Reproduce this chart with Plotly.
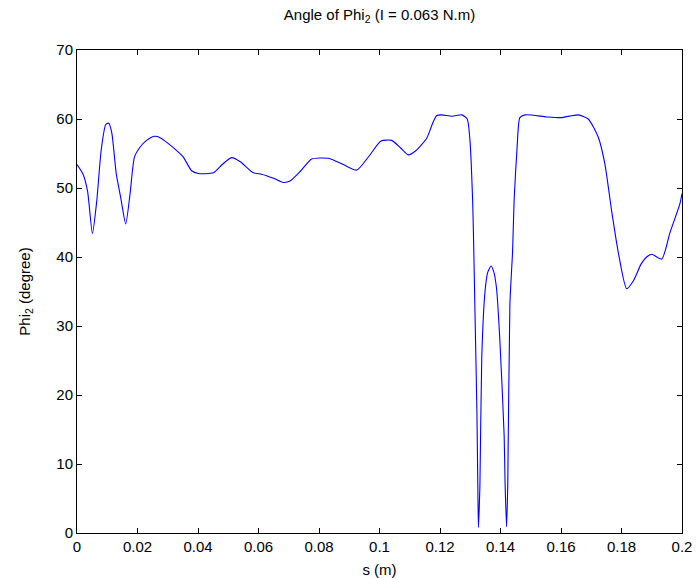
import plotly.graph_objects as go

s_m = [0, 0.002, 0.0035, 0.0051, 0.0065, 0.008, 0.0095, 0.0105, 0.0115, 0.013,
       0.0145, 0.0161, 0.0175, 0.019, 0.0208, 0.023, 0.0255, 0.0275, 0.030, 0.0325,
       0.0351, 0.0379, 0.0401, 0.0451, 0.048, 0.0511, 0.054, 0.0583, 0.061, 0.065,
       0.0682, 0.0704, 0.074, 0.0776, 0.0831, 0.088, 0.0925, 0.0965, 0.1005, 0.104,
       0.107, 0.1095, 0.112, 0.1156, 0.1175, 0.1189, 0.1205, 0.124, 0.1272, 0.129,
       0.1299, 0.1308, 0.1311, 0.1316, 0.1322, 0.1325, 0.1327, 0.1332, 0.1338, 0.1349,
       0.1358, 0.1369, 0.1378, 0.1387, 0.1398, 0.1412, 0.1415, 0.1420, 0.1424, 0.1431,
       0.1440, 0.1445, 0.1455, 0.1464, 0.1481, 0.1553, 0.160, 0.1657, 0.169, 0.1723,
       0.1745, 0.1768, 0.179, 0.1817, 0.184, 0.1865, 0.1883, 0.190, 0.1933, 0.196,
       0.1993, 0.2]

phi2_deg = [53.4, 52, 49.5, 43.4, 48, 55.5, 59.2, 59.4, 58, 52,
            48.5, 44.8, 49, 54.5, 55.9, 56.9, 57.5, 57.3, 56.5, 55.6,
            54.5, 52.5, 52.1, 52.2, 53.4, 54.4, 53.8, 52.2, 52.0, 51.4,
            50.8, 51.0, 52.5, 54.2, 54.3, 53.4, 52.6, 54.6, 56.8, 56.9,
            55.8, 54.8, 55.4, 57.2, 59.3, 60.5, 60.6, 60.4, 60.6, 60.0,
            56.9, 48, 42.4, 31.2, 17.6, 7.0, 0.8, 7.0, 25.4, 35.1,
            37.8, 38.7, 37.8, 35.4, 27.8, 14.2, 7.5, 0.9, 7.0, 33.1,
            40.9, 48.2, 56, 60.2, 60.6, 60.3, 60.2, 60.6, 60.0, 57.4,
            53.5, 46.5, 40.5, 35.4, 36.6, 39.0, 40.0, 40.4, 39.7, 43.5,
            47.7, 49.2]

x_ticks = [0, 0.02, 0.04, 0.06, 0.08, 0.1, 0.12, 0.14, 0.16, 0.18, 0.2]
x_tick_labels = ["0", "0.02", "0.04", "0.06", "0.08", "0.1", "0.12", "0.14", "0.16", "0.18", "0.2"]
y_ticks = [0, 10, 20, 30, 40, 50, 60, 70]

FONT = "Liberation Sans, Arial, sans-serif"
FS = 15

W, H = 696, 578
L, R, T, B = 77, 14, 50, 45

fig = go.Figure()
fig.add_trace(go.Scatter(
    x=s_m, y=phi2_deg, mode="lines",
    line=dict(color="#0000ff", width=1.1, shape="spline", smoothing=0.6),
    showlegend=False, hoverinfo="skip",
))

axis_common = dict(
    showgrid=False, zeroline=False, showline=True, linecolor="black", linewidth=1,
    mirror="ticks", ticks="inside", ticklen=5, tickcolor="black", tickwidth=1,
    tickfont=dict(family=FONT, size=FS, color="black"), automargin=False,
)

fig.update_layout(
    width=W, height=H,
    margin=dict(l=L, r=R, t=T, b=B),
    paper_bgcolor="white", plot_bgcolor="white",
    font=dict(family=FONT, size=FS, color="black"),
    title=dict(text="Angle of Phi<sub>2</sub> (I = 0.063 N.m)", x=(L + (W - L - R) / 2) / W,
               xanchor="center", xref="container", y=1 - 15 / H, yanchor="middle",
               font=dict(family=FONT, size=FS, color="black")),
    xaxis=dict(range=[0, 0.2], tickvals=x_ticks, ticktext=x_tick_labels,
               title=dict(text="s (m)", standoff=10, font=dict(family=FONT, size=FS)),
               **axis_common),
    yaxis=dict(range=[0, 70], tickvals=y_ticks,
               title=dict(text="Phi<sub>2</sub> (degree)", standoff=22, font=dict(family=FONT, size=FS)),
               **axis_common),
)

fig.write_html("out.html",
               config={"displayModeBar": False},
               post_script="document.body.style.margin='0';document.body.style.overflow='hidden';")
